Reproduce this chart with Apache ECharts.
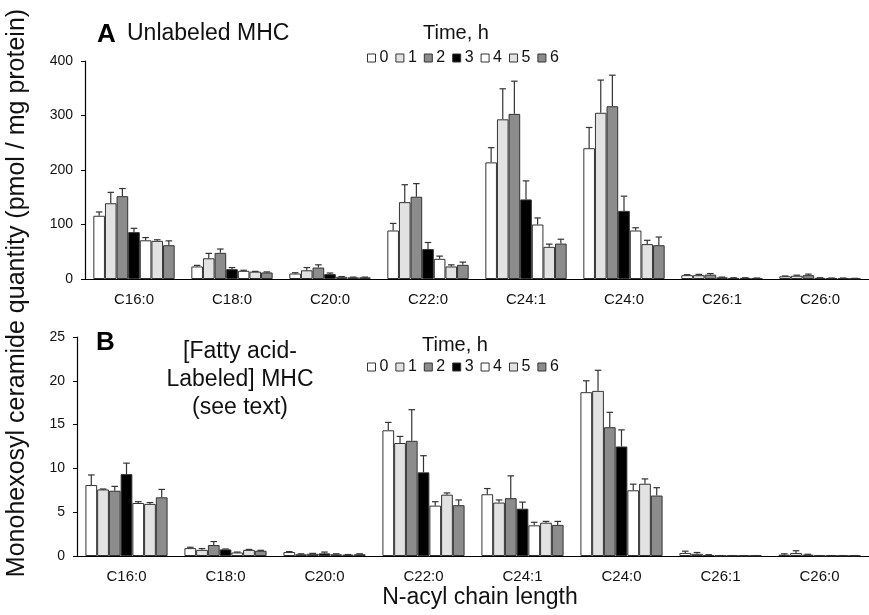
<!DOCTYPE html>
<html>
<head>
<meta charset="utf-8">
<script src="https://cdn.jsdelivr.net/npm/echarts@6/dist/echarts.min.js"></script>
<style>html,body{margin:0;padding:0;background:#fff}#chart{width:869px;height:615px}</style>
</head>
<body>
<div id="chart"></div>
<script>
const categories = ['C16:0','C18:0','C20:0','C22:0','C24:1','C24:0','C26:1','C26:0'];
const timeLabels = ['0','1','2','3','4','5','6'];
const ticksA = [0,100,200,300,400];
const ticksB = [0,5,10,15,20,25];

// Panel A: unlabeled MHC, one row per time point (h), values per category
const unlabeledMean = [
  [116, 23, 10, 89, 214, 240, 7, 5],
  [139, 38, 16, 141, 293, 305, 7, 6],
  [152, 48, 21, 151, 303, 317, 8, 7],
  [86, 18, 9, 55, 146, 125, 3, 2],
  [71, 15, 4, 37, 100, 89, 2, 1.5],
  [70, 13.5, 3, 23, 59, 64, 2, 1.5],
  [62, 12, 3, 26, 65, 62, 1.5, 1]
];
const unlabeledErr = [
  [7, 2, 1.5, 13, 27, 38, 1, 0.5],
  [20, 9, 5, 32, 56, 60, 1.5, 1],
  [14, 7, 5, 24, 60, 57, 2, 2],
  [7, 3, 2, 12, 34, 27, 0.5, 0.3],
  [5, 1, 0.5, 5, 12, 5, 0.3, 0.3],
  [2, 0.5, 0.5, 3, 5, 7, 0.3, 0.3],
  [8, 1, 0.5, 5, 8, 15, 0.3, 0.2]
];
// Panel B: fatty acid-labeled MHC
const labeledMean = [
  [8.1, 0.9, 0.45, 14.35, 7.05, 18.7, 0.35, 0.15],
  [7.6, 0.7, 0.2, 12.9, 6.1, 18.85, 0.25, 0.35],
  [7.45, 1.25, 0.25, 13.15, 6.6, 14.7, 0.1, 0.15],
  [9.35, 0.75, 0.3, 9.55, 5.4, 12.5, 0.05, 0.05],
  [6.05, 0.4, 0.2, 5.75, 3.5, 7.5, 0.05, 0.05],
  [5.95, 0.7, 0.15, 7.0, 3.8, 8.25, 0.05, 0.05],
  [6.7, 0.6, 0.2, 5.8, 3.55, 6.9, 0.05, 0.05]
];
const labeledErr = [
  [1.15, 0.1, 0.05, 0.9, 0.65, 1.3, 0.2, 0.1],
  [0.05, 0.15, 0.05, 0.75, 0.3, 2.35, 0.15, 0.25],
  [0.5, 0.4, 0.05, 3.55, 2.55, 1.7, 0.05, 0.05],
  [1.25, 0.05, 0.15, 1.9, 0.75, 1.9, 0, 0],
  [0.15, 0.05, 0.05, 0.45, 0.35, 0.7, 0, 0],
  [0.15, 0.05, 0.02, 0.2, 0.15, 0.55, 0, 0],
  [0.9, 0.05, 0.05, 0.6, 0.4, 0.9, 0, 0]
];

const fills = ['#ffffff','#e2e2e2','#8c8c8c','#000000','#ffffff','#e2e2e2','#8c8c8c'];
const FONT = '"Liberation Sans", Arial, sans-serif';
const GAP = 0.17;

const chart = echarts.init(document.getElementById('chart'));

function makeAxes(gi, ticks) {
  return {
    x: {
      type: 'category', gridIndex: gi, data: categories,
      axisLine: {lineStyle: {color: '#000', width: 1.2}},
      axisTick: {length: 4, lineStyle: {color: '#000'}},
      axisLabel: {fontFamily: FONT, fontSize: 15, color: '#111', margin: 13}
    },
    y: {
      type: 'value', gridIndex: gi, min: ticks[0], max: ticks[ticks.length - 1],
      interval: ticks[1] - ticks[0],
      axisLine: {show: true, lineStyle: {color: '#000', width: 1.2}},
      axisTick: {show: true, length: 4, lineStyle: {color: '#000'}},
      splitLine: {show: false},
      axisLabel: {fontFamily: FONT, fontSize: 14, color: '#111', margin: 12}
    }
  };
}
const axA = makeAxes(0, ticksA);
const axB = makeAxes(1, ticksB);

function errSeries(gi, i, mean, err) {
  return {
    type: 'custom', name: 'err' + gi + '_' + i, xAxisIndex: gi, yAxisIndex: gi, z: 5,
    silent: true,
    data: mean.map((v, c) => [c, v, err[c]]),
    renderItem: function (params, api) {
      const c = api.value(0), v = api.value(1), e = api.value(2);
      const p0 = api.coord([c, v]);
      const p1 = api.coord([c, v + e]);
      const band = api.size([1, 0])[0];
      const bw = band * (1 - GAP) / 7;
      const x = p0[0] + (i - 3) * bw;
      const half = bw * 0.28;
      const st = {stroke: '#333', lineWidth: 1.2};
      return {type: 'group', children: [
        {type: 'line', shape: {x1: x, y1: p0[1], x2: x, y2: p1[1]}, style: st},
        {type: 'line', shape: {x1: x - half, y1: p1[1], x2: x + half, y2: p1[1]}, style: st}
      ]};
    }
  };
}

const series = [];
[[unlabeledMean, unlabeledErr], [labeledMean, labeledErr]].forEach(([means, errs], gi) => {
  means.forEach((m, i) => {
    series.push({
      type: 'bar', name: timeLabels[i], xAxisIndex: gi, yAxisIndex: gi,
      data: m, barGap: '0%', barCategoryGap: (GAP * 100) + '%',
      itemStyle: {color: fills[i], borderColor: '#333', borderWidth: 1}
    });
  });
  means.forEach((m, i) => series.push(errSeries(gi, i, m, errs[i])));
});

function legend(top) {
  return {
    data: timeLabels, left: 362, top: top, icon: 'rect', itemWidth: 8, itemHeight: 8,
    itemGap: 7, selectedMode: false,
    itemStyle: {borderColor: '#333', borderWidth: 1},
    textStyle: {fontFamily: FONT, fontSize: 16, color: '#111', padding: [0, 0, 0, -1]}
  };
}

chart.setOption({
  animation: false,
  grid: [
    {left: 85, right: -4, top: 61, bottom: 336},
    {left: 77, right: -4, top: 337, bottom: 59}
  ],
  xAxis: [axA.x, axB.x],
  yAxis: [axA.y, axB.y],
  legend: [legend(45), legend(354)],
  series: series,
  graphic: [
    {type: 'text', x: 97, y: 35, style: {text: 'A', font: 'bold 26px ' + FONT, fill: '#000', verticalAlign: 'middle'}},
    {type: 'text', x: 127, y: 34, style: {text: 'Unlabeled MHC', font: '23px ' + FONT, fill: '#111', verticalAlign: 'middle'}},
    {type: 'text', x: 423, y: 33, style: {text: 'Time, h', font: '20px ' + FONT, fill: '#111', verticalAlign: 'middle'}},
    {type: 'text', x: 96, y: 343, style: {text: 'B', font: 'bold 26px ' + FONT, fill: '#000', verticalAlign: 'middle'}},
    {type: 'text', x: 422, y: 345, style: {text: 'Time, h', font: '20px ' + FONT, fill: '#111', verticalAlign: 'middle'}},
    {type: 'text', x: 240, y: 380, style: {text: '[Fatty acid-\nLabeled] MHC\n(see text)', font: '23px ' + FONT, fill: '#111', align: 'center', verticalAlign: 'middle', lineHeight: 28}},
    {type: 'text', x: 480, y: 598, style: {text: 'N-acyl chain length', font: '23px ' + FONT, fill: '#111', align: 'center', verticalAlign: 'middle'}},
    {type: 'text', x: 17, y: 293, rotation: Math.PI / 2, style: {text: 'Monohexosyl ceramide quantity (pmol / mg protein)', font: '25px ' + FONT, fill: '#111', align: 'center', verticalAlign: 'middle'}}
  ]
});
</script>
</body>
</html>
